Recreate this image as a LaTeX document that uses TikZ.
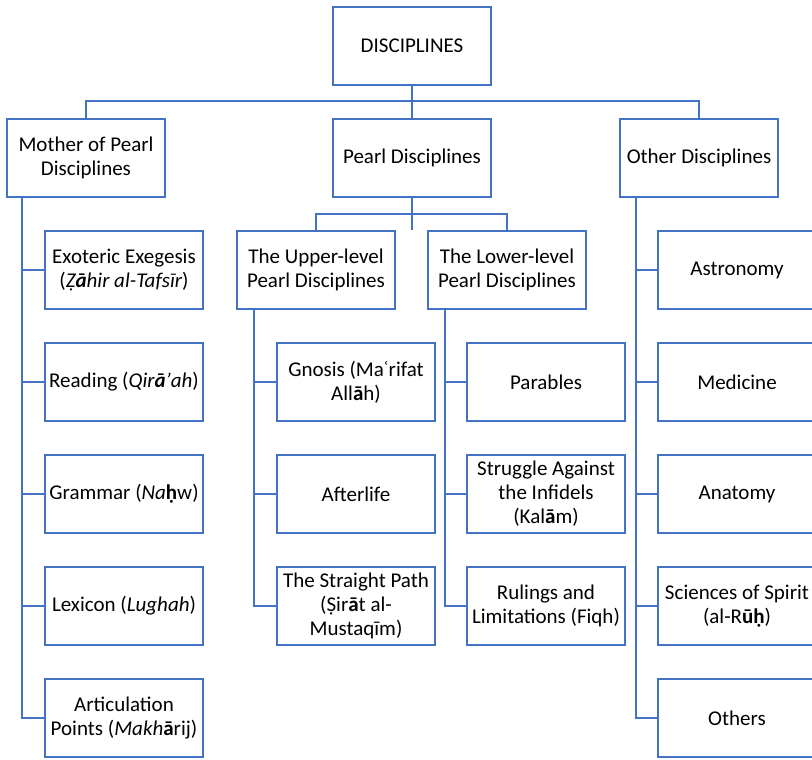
\documentclass[tikz,border=0pt]{standalone}
\usepackage{fontspec}
\setmainfont{Carlito}
\definecolor{boxblue}{RGB}{68,114,196}

\begin{document}
\begin{tikzpicture}[x=0.5pt, y=-0.5pt, line width=1.25pt, draw=boxblue]
 \useasboundingbox (0,0) rectangle (812,759);
 \begin{scope}[every node/.style={rectangle, draw=boxblue, line width=1.25pt, fill=white,
     minimum width=79pt, minimum height=39pt, inner sep=1pt, align=center,
     font=\fontsize{10.5}{12}\selectfont}]
   % top levels
   \node (top)    at (412,46)  {DISCIPLINES};
   \node (mother) at (86,158)  {Mother of Pearl\\Disciplines};
   \node (pearl)  at (412,158) {Pearl Disciplines};
   \node (other)  at (699,158) {Other Disciplines};
   \node (upper)  at (316,270) {The Upper-level\\Pearl Disciplines};
   \node (lower)  at (507,270) {The Lower-level\\Pearl Disciplines};
   % mother of pearl
   \node (exo)    at (124,270) {Exoteric Exegesis\\(\textit{Ẓ\textbf{ā}hir al-Tafsīr})};
   \node (read)   at (124,382) {Reading (\textit{Qir\textbf{ā}ʼah})};
   \node (gram)   at (124,494) {Grammar (\textit{Na}\textbf{ḥ}w)};
   \node (lex)    at (124,606) {Lexicon (\textit{Lughah})};
   \node (artic)  at (124,718) {Articulation\\Points (\textit{Makh}\textbf{ā}rij)};
   % upper level
   \node (gnosis) at (356,382) {Gnosis (Maʿrifat\\All\textbf{ā}h)};
   \node (after)  at (356,494) {Afterlife};
   \node (path)   at (356,606) {The Straight Path\\(Ṣir\textbf{ā}t al-\\Mustaqīm)};
   % lower level
   \node (parab)  at (546,382) {Parables};
   \node (strug)  at (546,494) {Struggle Against\\the Infidels\\(Kal\textbf{ā}m)};
   \node (rule)   at (546,606) {Rulings and\\Limitations (Fiqh)};
   % other
   \node (astro)  at (737,270) {Astronomy};
   \node (med)    at (737,382) {Medicine};
   \node (anat)   at (737,494) {Anatomy};
   \node (spirit) at (737,606) {Sciences of Spirit\\(al-R\textbf{ū}\textbf{ḥ})};
   \node (others) at (737,718) {Others};
 \end{scope}
 \coordinate (bus)   at (412,101);
 \coordinate (pbus)  at (412,214);
 \coordinate (mstem) at (22,197);
 \coordinate (ustem) at (254,309);
 \coordinate (lstem) at (445,309);
 \coordinate (ostem) at (636,197);
 \draw (top) -- (pearl);
 \draw (mother.north) |- (bus) -| (other.north);
 \draw (pearl) -- (upper.north -| pbus);
 \draw (upper.north) |- (pbus) -| (lower.north);
 \draw (mstem) |- (exo.west);
 \draw (mstem) |- (read.west);
 \draw (mstem) |- (gram.west);
 \draw (mstem) |- (lex.west);
 \draw (mstem) |- (artic.west);
 \draw (ustem) |- (gnosis.west);
 \draw (ustem) |- (after.west);
 \draw (ustem) |- (path.west);
 \draw (lstem) |- (parab.west);
 \draw (lstem) |- (strug.west);
 \draw (lstem) |- (rule.west);
 \draw (ostem) |- (astro.west);
 \draw (ostem) |- (med.west);
 \draw (ostem) |- (anat.west);
 \draw (ostem) |- (spirit.west);
 \draw (ostem) |- (others.west);
\end{tikzpicture}
\end{document}
